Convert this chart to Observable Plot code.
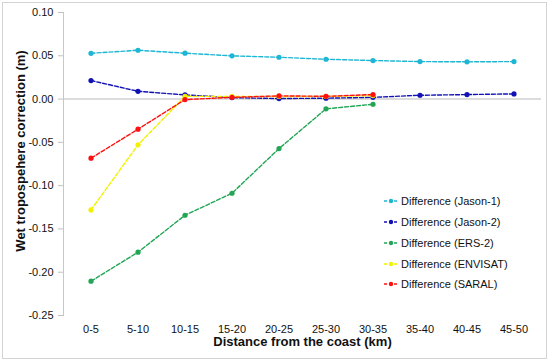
<!DOCTYPE html>
<html>
<head>
<meta charset="utf-8">
<script src="https://cdn.jsdelivr.net/npm/d3@7"></script>
<script src="https://cdn.jsdelivr.net/npm/@observablehq/plot@0.6"></script>
<style>
  html, body { margin: 0; padding: 0; background: #fff; }
  #wrap { position: relative; width: 550px; height: 362px; font-family: "Liberation Sans", Arial, sans-serif; }
  #frame { position: absolute; left: 2px; top: 2px; width: 543px; height: 355px; border: 1.5px solid #d4d4d4; pointer-events: none; }
  #legend { position: absolute; left: 383px; top: 191px; font-size: 11px; color: #111; }
  .item { height: 20.75px; display: flex; align-items: center; white-space: nowrap; }
  .item svg { margin-right: 2px; }
</style>
</head>
<body>
<div id="wrap"><div id="chart"></div><div id="legend"></div><div id="frame"></div></div>
<script>
const categories = ["0-5","5-10","10-15","15-20","20-25","25-30","30-35","35-40","40-45","45-50"];
const jason1  = [0.0529, 0.0564, 0.0530, 0.0499, 0.0483, 0.0460, 0.0445, 0.0433, 0.0430, 0.0433];
const jason2  = [0.0214, 0.0090, 0.0048, 0.0017, 0.0006, 0.0010, 0.0020, 0.0044, 0.0052, 0.0060];
const ers2    = [-0.2104, -0.1769, -0.1342, -0.1088, -0.0572, -0.0113, -0.0060];
const envisat = [-0.1280, -0.0529, 0.0032, 0.0030, 0.0030, 0.0030, 0.0040];
const saral   = [-0.0683, -0.0348, -0.0006, 0.0020, 0.0037, 0.0032, 0.0052];

const seriesNames  = ["Difference (Jason-1)", "Difference (Jason-2)", "Difference (ERS-2)", "Difference (ENVISAT)", "Difference (SARAL)"];
const seriesColors = ["#1fb6d4", "#1212b4", "#22a655", "#f2f200", "#ff1010"];
const seriesValues = [jason1, jason2, ers2, envisat, saral];
const yTicks = [0.10, 0.05, 0.00, -0.05, -0.10, -0.15, -0.20, -0.25];

const rows = seriesValues.map((vals, i) => vals.map((v, j) => ({cat: categories[j], v, s: seriesNames[i], c: seriesColors[i]})));

const marks = [
  Plot.ruleY([0], {stroke: "#d0d0d0", strokeWidth: 1.5}),
  Plot.frame({anchor: "left", stroke: "#c8c8c8"}),
  Plot.axisY({ticks: yTicks, tickFormat: d => d.toFixed(2), tickSize: 5, tickPadding: 5, fontSize: 11, stroke: "#c0c0c0", label: null, color: "#111"}),
  Plot.axisX({tickSize: 0, tickPadding: 10, fontSize: 11, label: null, color: "#111"}),
];
rows.forEach(r => {
  marks.push(Plot.line(r, {x: "cat", y: "v", stroke: r[0].c, strokeWidth: 1.4, strokeDasharray: "4,2"}));
  marks.push(Plot.dot(r, {x: "cat", y: "v", fill: r[0].c, r: 2.6}));
});
marks.push(Plot.text(["Wet tropospehere correction (m)"], {frameAnchor: "left", textAnchor: "middle", dx: -43, dy: -13, rotate: -90, fontSize: 13, fontWeight: "bold", fill: "#111"}));
marks.push(Plot.text(["Distance from the coast (km)"], {frameAnchor: "bottom", dy: 30, fontSize: 13, fontWeight: "bold", fill: "#111"}));

const chart = Plot.plot({
  width: 550, height: 362,
  marginLeft: 63, marginRight: 9, marginTop: 12, marginBottom: 47,
  style: {fontFamily: "Liberation Sans, Arial, sans-serif", background: "#fff", overflow: "visible"},
  x: {type: "band", domain: categories, padding: 0, axis: null},
  y: {domain: [-0.25, 0.10], axis: null},
  marks
});
document.getElementById("chart").appendChild(chart);

const legend = document.getElementById("legend");
seriesNames.forEach((n, i) => {
  const d = document.createElement("div");
  d.className = "item";
  d.innerHTML = `<svg width="16" height="8"><line x1="1" x2="15" y1="4" y2="4" stroke="${seriesColors[i]}" stroke-width="1.4" stroke-dasharray="3,2"/><circle cx="8" cy="4" r="2.2" fill="${seriesColors[i]}"/></svg><span>${n}</span>`;
  legend.appendChild(d);
});
</script>
</body>
</html>
